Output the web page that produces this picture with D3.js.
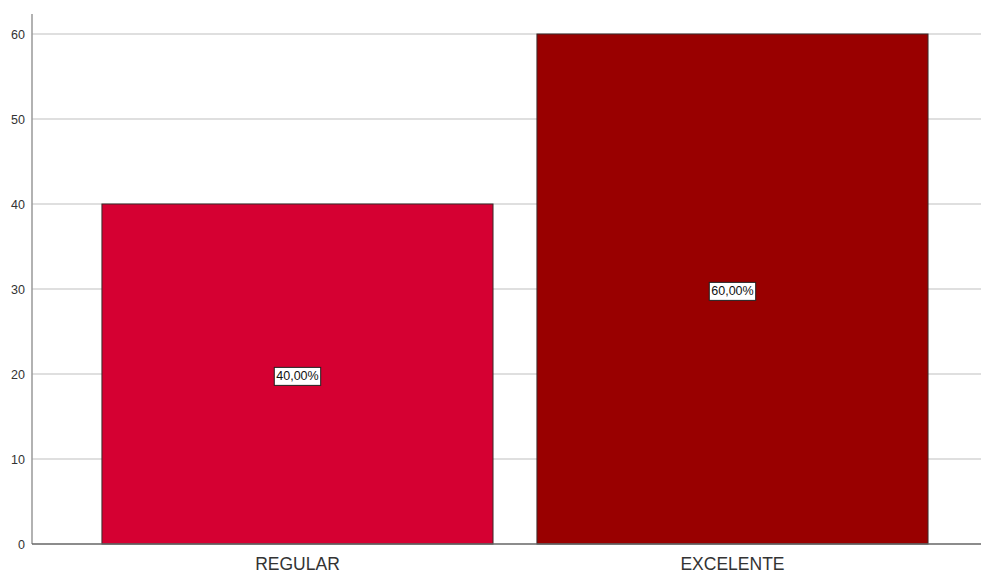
<!DOCTYPE html>
<html>
<head>
<meta charset="utf-8">
<script src="https://cdn.jsdelivr.net/npm/d3@7"></script>
<style>
  html, body { margin: 0; padding: 0; background: #fff; }
  svg { display: block; }
</style>
</head>
<body>
<script>
// Chart data
const categories = ["REGULAR", "EXCELENTE"];
const percents = [40, 60];
const valueLabels = ["40,00%", "60,00%"];
const yTicks = [0, 10, 20, 30, 40, 50, 60];
const barColors = ["#d50032", "#990000"];

const W = 982, H = 574;
const plotLeft = 32, plotRight = 981, plotTop = 34, plotBottom = 544;

const svg = d3.select("body").append("svg")
  .attr("width", W).attr("height", H);

const y = d3.scaleLinear().domain([0, 60]).range([plotBottom, plotTop]);
const x = d3.scaleBand().domain(categories).range([plotLeft, plotRight])
  .paddingInner(0.101).paddingOuter(0.1413).align(0.569);

// Horizontal gridlines
svg.append("g").selectAll("line").data(yTicks.filter(d => d > 0)).join("line")
  .attr("x1", plotLeft).attr("x2", plotRight)
  .attr("y1", d => y(d)).attr("y2", d => y(d))
  .attr("stroke", "#d4d4d4").attr("stroke-width", 1.5);

// Y axis
const yAxis = svg.append("g").attr("transform", `translate(${plotLeft},0)`)
  .call(d3.axisLeft(y).tickValues(yTicks).tickSize(0).tickPadding(7));
yAxis.select(".domain").remove();
yAxis.selectAll("text")
  .attr("font-family", "Arial, 'Liberation Sans', sans-serif")
  .attr("font-size", 12.5).attr("fill", "#333");
svg.append("line").attr("x1", plotLeft).attr("x2", plotLeft)
  .attr("y1", 14).attr("y2", plotBottom)
  .attr("stroke", "#999").attr("stroke-width", 1.5);

// Bars
svg.append("g").selectAll("rect").data(categories).join("rect")
  .attr("x", d => x(d)).attr("width", x.bandwidth())
  .attr("y", (d, i) => y(percents[i]))
  .attr("height", (d, i) => y(0) - y(percents[i]))
  .attr("fill", (d, i) => barColors[i])
  .attr("stroke", "#3a2a2a").attr("stroke-width", 1);

// X baseline
svg.append("line").attr("x1", plotLeft).attr("x2", plotRight)
  .attr("y1", plotBottom).attr("y2", plotBottom)
  .attr("stroke", "#666").attr("stroke-width", 1.5);

// Category labels
const xAxis = svg.append("g").attr("transform", `translate(0,${plotBottom})`)
  .call(d3.axisBottom(x).tickSize(0).tickPadding(14));
xAxis.select(".domain").remove();
xAxis.selectAll("text")
  .attr("font-family", "Arial, 'Liberation Sans', sans-serif")
  .attr("font-size", 17.5).attr("fill", "#333");

// Value labels in boxes
const labels = svg.append("g").selectAll("g").data(categories).join("g")
  .attr("transform", (d, i) => `translate(${x(d) + x.bandwidth() / 2},${y(percents[i] / 2) + 2})`);
labels.append("text")
  .attr("text-anchor", "middle").attr("dy", "0.35em")
  .attr("font-family", "Arial, 'Liberation Sans', sans-serif")
  .attr("font-size", 12.5).attr("fill", "#111")
  .text((d, i) => valueLabels[i]);
labels.each(function () {
  const g = d3.select(this);
  const bb = g.select("text").node().getBBox();
  g.insert("rect", "text")
    .attr("x", bb.x - 2).attr("y", bb.y - 2)
    .attr("width", bb.width + 4).attr("height", bb.height + 4)
    .attr("fill", "#fff").attr("stroke", "#222").attr("stroke-width", 1);
});
</script>
</body>
</html>
